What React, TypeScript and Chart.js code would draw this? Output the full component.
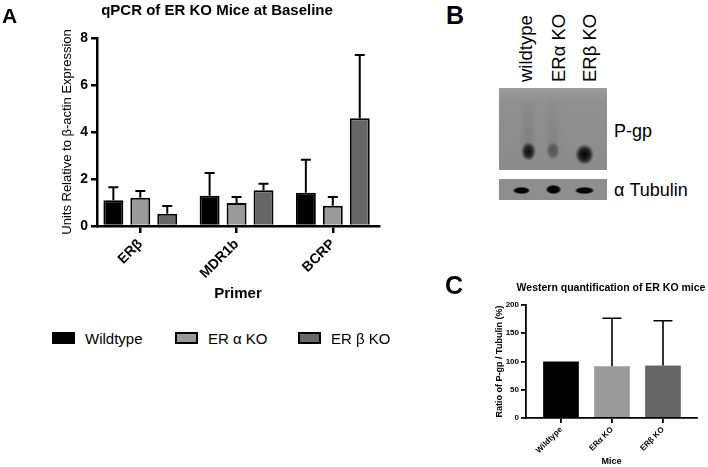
import React, { useEffect, useRef } from 'react';
import { Chart, registerables } from 'chart.js';

Chart.register(...registerables);

const FONT = "'Liberation Sans', Arial, Helvetica, sans-serif";

// ---- Panel A data ----
const PRIMERS = ['ERβ', 'MDR1b', 'BCRP'];
const GROUPS = ['Wildtype', 'ER α KO', 'ER β KO'];
const WT_MEAN = [1.1, 1.29, 1.42];
const WT_SD = [0.55, 0.97, 1.4];
const ERA_MEAN = [1.2, 0.98, 0.86];
const ERA_SD = [0.29, 0.25, 0.37];
const ERB_MEAN = [0.52, 1.52, 4.58];
const ERB_SD = [0.33, 0.28, 2.7];
const GROUP_COLORS = ['#000000', '#9a9a9a', '#666666'];

// ---- Panel C data ----
const MICE = ['Wildtype', 'ERα KO', 'ERβ KO'];
const RATIO = [100, 91.5, 93];
const RATIO_SD = [0, 85, 79];
const MICE_COLORS = ['#000000', '#9a9a9a', '#666666'];

// ---- Panel B labels ----
const LANES = ['wildtype', 'ERα KO', 'ERβ KO'];

const errorBars = {
  id: 'errorBars',
  afterDatasetsDraw(chart: any, _args: any, opts: any) {
    const ctx = chart.ctx;
    const ys = chart.scales.y;
    chart.data.datasets.forEach((ds: any, di: number) => {
      const errs = ds.errors;
      if (!errs) return;
      const meta = chart.getDatasetMeta(di);
      meta.data.forEach((bar: any, i: number) => {
        const e = errs[i];
        if (!e) return;
        const v = ds.data[i].y;
        const y0 = ys.getPixelForValue(v);
        const y1 = ys.getPixelForValue(v + e);
        ctx.save();
        ctx.strokeStyle = '#000';
        ctx.lineWidth = opts.lineWidth || 2;
        ctx.beginPath();
        ctx.moveTo(bar.x, y0);
        ctx.lineTo(bar.x, y1);
        ctx.moveTo(bar.x - opts.capWidth / 2, y1);
        ctx.lineTo(bar.x + opts.capWidth / 2, y1);
        ctx.stroke();
        ctx.restore();
      });
    });
  },
};

const abs = (s: React.CSSProperties): React.CSSProperties => ({ position: 'absolute', whiteSpace: 'nowrap', lineHeight: 1, ...s });

export default function App() {
  const refA = useRef<HTMLCanvasElement>(null);
  const refC = useRef<HTMLCanvasElement>(null);

  useEffect(() => {
    const axisFont = (size: number, weight: any = 'bold') => ({ family: FONT, size, weight });
    const means = [WT_MEAN, ERA_MEAN, ERB_MEAN];
    const sds = [WT_SD, ERA_SD, ERB_SD];
    const chartA = new Chart(refA.current!, {
      type: 'bar',
      data: {
        datasets: GROUPS.map((g, gi) => ({
          label: g,
          data: means[gi].map((y, i) => ({ x: i, y })),
          errors: sds[gi],
          backgroundColor: GROUP_COLORS[gi],
          borderColor: '#000',
          borderWidth: 2,
        })) as any,
      },
      options: {
        animation: false,
        responsive: false,
        layout: { padding: { left: 60, top: 38, right: 21, bottom: 0 } },
        datasets: { bar: { categoryPercentage: 0.84, barPercentage: 0.74 } } as any,
        plugins: {
          legend: { display: false },
          title: { display: false },
          tooltip: { enabled: false },
          errorBars: { lineWidth: 2, capWidth: 10 },
        } as any,
        scales: {
          x: {
            type: 'linear',
            offset: false,
            min: -0.45,
            max: 2.48,
            afterBuildTicks: (s: any) => {
              s.ticks = PRIMERS.map((_, i) => ({ value: i }));
            },
            afterFit: (s: any) => {
              s.height = 77;
            },
            ticks: {
              callback: (v: any) => PRIMERS[v],
              font: axisFont(14),
              color: '#000',
              minRotation: 45,
              maxRotation: 45,
              padding: 3,
              autoSkip: false,
            },
            grid: { display: true, offset: false, drawOnChartArea: false, drawTicks: true, tickLength: 7, lineWidth: 2.5, color: '#000' },
            border: { display: true, color: '#000', width: 2.5 },
            title: { display: true, text: 'Primer', font: axisFont(15), color: '#000', padding: 0 },
          },
          y: {
            min: 0,
            max: 8,
            afterFit: (s: any) => {
              s.width = 37;
            },
            ticks: { stepSize: 2, font: axisFont(14), color: '#000', padding: 3 },
            grid: { display: true, drawOnChartArea: false, drawTicks: true, tickLength: 6, lineWidth: 2.5, color: '#000' },
            border: { display: true, color: '#000', width: 2.5 },
            title: {
              display: true,
              text: 'Units Relative to β-actin Expression',
              font: axisFont(13, 'normal'),
              color: '#000',
              padding: 0,
            },
          },
        } as any,
      },
      plugins: [errorBars],
    });

    const chartC = new Chart(refC.current!, {
      type: 'bar',
      data: {
        datasets: [
          {
            label: 'Ratio',
            data: RATIO.map((y, i) => ({ x: i, y })),
            errors: RATIO_SD,
            backgroundColor: MICE_COLORS,
            borderWidth: 0,
          } as any,
        ],
      },
      options: {
        animation: false,
        responsive: false,
        layout: { padding: { left: 74, top: 18, right: 11, bottom: 0 } },
        datasets: { bar: { categoryPercentage: 1, barPercentage: 0.7 } } as any,
        plugins: {
          legend: { display: false },
          title: { display: false },
          tooltip: { enabled: false },
          errorBars: { lineWidth: 1.6, capWidth: 19 },
        } as any,
        scales: {
          x: {
            type: 'linear',
            offset: false,
            min: -0.686,
            max: 2.667,
            afterBuildTicks: (s: any) => {
              s.ticks = MICE.map((_, i) => ({ value: i }));
            },
            afterFit: (s: any) => {
              s.height = 49;
            },
            ticks: {
              callback: (v: any) => MICE[v],
              font: axisFont(8),
              color: '#000',
              minRotation: 45,
              maxRotation: 45,
              padding: 2,
              autoSkip: false,
            },
            grid: { display: true, offset: false, drawOnChartArea: false, drawTicks: true, tickLength: 5, lineWidth: 1.8, color: '#000' },
            border: { display: true, color: '#000', width: 1.8 },
            title: { display: true, text: 'Mice', font: axisFont(9), color: '#000', padding: 0 },
          },
          y: {
            min: 0,
            max: 200,
            afterFit: (s: any) => {
              s.width = 32;
            },
            ticks: { stepSize: 50, font: axisFont(8), color: '#000', padding: 2 },
            grid: { display: true, drawOnChartArea: false, drawTicks: true, tickLength: 5, lineWidth: 1.8, color: '#000' },
            border: { display: true, color: '#000', width: 1.8 },
            title: { display: true, text: 'Ratio of P-gp / Tubulin (%)', font: axisFont(9), color: '#000', padding: 0 },
          },
        } as any,
      },
      plugins: [errorBars],
    });

    return () => {
      chartA.destroy();
      chartC.destroy();
    };
  }, []);

  const band = (cx: number, cy: number, w: number, h: number, a: number): React.CSSProperties => ({
    position: 'absolute',
    left: cx - w / 2,
    top: cy - h / 2,
    width: w,
    height: h,
    borderRadius: '50%',
    background: `radial-gradient(ellipse closest-side, rgba(0,0,0,${a}) 0%, rgba(0,0,0,${a * 0.75}) 55%, rgba(0,0,0,0) 100%)`,
  });
  const tband = (cx: number, cy: number, w: number, h: number): React.CSSProperties => ({
    position: 'absolute',
    left: cx - w / 2,
    top: cy - h / 2,
    width: w,
    height: h,
    borderRadius: '50%',
    background: 'radial-gradient(ellipse closest-side, #000 0%, #050505 70%, rgba(0,0,0,0.3) 100%)',
  });
  const smear = (cx: number, top: number, h: number, a: number): React.CSSProperties => ({
    position: 'absolute',
    left: cx - 5,
    top,
    width: 10,
    height: h,
    background: `linear-gradient(to bottom, rgba(0,0,0,0), rgba(0,0,0,${a}))`,
    filter: 'blur(2px)',
  });

  const legendBoxes = [52, 175, 298];
  const legendTexts = [85, 208, 331];
  const laneX = [526, 559, 590];

  return (
    <div style={{ position: 'absolute', left: 0, top: 0, width: 708, height: 467, background: '#fff', fontFamily: FONT, color: '#000', overflow: 'hidden' }}>
      <canvas ref={refA} width={400} height={303} style={{ position: 'absolute', left: 0, top: 0, width: 400, height: 303 }} />
      <canvas ref={refC} width={288} height={180} style={{ position: 'absolute', left: 420, top: 287, width: 288, height: 180 }} />

      {/* Panel letters */}
      <div style={abs({ left: 2, top: 5, fontSize: 21, fontWeight: 'bold' })}>A</div>
      <div style={abs({ left: 446, top: 3, fontSize: 25, fontWeight: 'bold' })}>B</div>
      <div style={abs({ left: 445, top: 273, fontSize: 25, fontWeight: 'bold' })}>C</div>

      {/* Panel A title */}
      <div style={abs({ left: 217, top: 9, fontSize: 15, fontWeight: 'bold', transform: 'translate(-50%,-50%)' })}>
        qPCR of ER KO Mice at Baseline
      </div>

      {/* Panel A legend */}
      {GROUPS.map((g, i) => (
        <React.Fragment key={g}>
          <div
            style={{
              position: 'absolute',
              left: legendBoxes[i],
              top: 332,
              width: 23,
              height: 12,
              boxSizing: 'border-box',
              border: '2px solid #000',
              background: GROUP_COLORS[i],
            }}
          />
          <div style={abs({ left: legendTexts[i], top: 338, fontSize: 15, transform: 'translateY(-50%)' })}>{g}</div>
        </React.Fragment>
      ))}

      {/* Panel B: western blot */}
      {LANES.map((l, i) => (
        <div
          key={l}
          style={abs({
            left: laneX[i],
            top: 82,
            fontSize: 18.5,
            transformOrigin: '0 0',
            transform: 'rotate(-90deg) translateY(-50%)',
          })}
        >
          {l}
        </div>
      ))}
      <div
        style={{
          position: 'absolute',
          left: 499,
          top: 88,
          width: 108,
          height: 82,
          background: 'linear-gradient(to bottom, #9d9d9d 0%, #909090 15%, #8b8b8b 100%)',
          overflow: 'hidden',
        }}
      >
        <div style={smear(29, 4, 56, 0.1)} />
        <div style={smear(54, 4, 56, 0.08)} />
        <div style={band(29, 63, 15, 19, 0.9)} />
        <div style={band(54, 63, 14, 18, 0.4)} />
        <div style={band(85, 66, 19, 21, 1)} />
      </div>
      <div style={{ position: 'absolute', left: 499, top: 179, width: 108, height: 21, background: '#8e8e8e' }}>
        <div style={tband(22, 11, 17, 7)} />
        <div style={tband(54, 10.5, 15, 9)} />
        <div style={tband(85, 11, 19, 7)} />
      </div>
      <div style={abs({ left: 614, top: 131, fontSize: 18, transform: 'translateY(-50%)' })}>P-gp</div>
      <div style={abs({ left: 614, top: 190, fontSize: 18, transform: 'translateY(-50%)' })}>α Tubulin</div>

      {/* Panel C title */}
      <div style={abs({ left: 611, top: 287, fontSize: 10.5, fontWeight: 'bold', transform: 'translate(-50%,-50%)' })}>
        Western quantification of ER KO mice
      </div>
    </div>
  );
}
